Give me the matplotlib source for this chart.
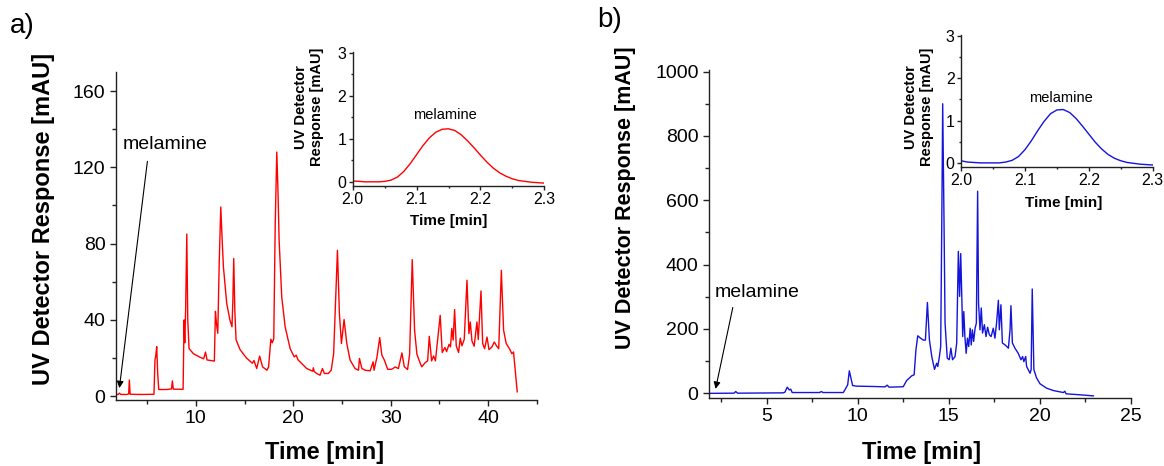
import matplotlib
matplotlib.use('Agg')
import matplotlib.pyplot as plt
from matplotlib.ticker import MultipleLocator

plt.rcParams['font.family'] = ['Liberation Sans', 'DejaVu Sans']

# chromatogram a) - time [min], response [mAU]
a_time = [1.85, 2.05, 2.15, 2.3, 2.9, 3.1, 3.17, 3.25, 4.5, 5.7, 5.8, 5.88, 5.98, 6.08, 6.19,
          7.0, 7.5, 7.59, 7.68, 8.69, 8.79, 8.86, 8.95, 9.07, 9.17, 9.3, 9.74, 10.4, 10.8, 10.99,
          11.15, 11.9, 12.01, 12.12, 12.25, 12.4, 12.56, 12.7, 12.83, 13.17, 13.5, 13.71, 13.8,
          13.89, 14.0, 14.13, 14.54, 15.2, 15.8, 15.97, 16.25, 16.55, 16.85, 17.3, 17.47, 17.7,
          17.85, 18.0, 18.15, 18.31, 18.42, 18.55, 18.82, 19.17, 19.68, 20.1, 20.3, 20.5, 20.7,
          21.38, 22.0, 22.06, 22.15, 22.4, 22.75, 23.0, 23.2, 23.6, 23.9, 24.15, 24.35, 24.54,
          24.74, 24.95, 25.22, 25.5, 25.84, 26.35, 26.7, 26.8, 27.05, 27.4, 27.9, 28.2, 28.3,
          28.6, 28.88, 29.1, 29.35, 29.7, 30.1, 30.47, 30.8, 31.16, 31.4, 31.74, 31.95, 32.1,
          32.22, 32.46, 32.7, 33.05, 33.2, 33.55, 33.8, 33.97, 34.21, 34.41, 34.6, 35.09, 35.3,
          35.57, 35.75, 36.0, 36.15, 36.28, 36.42, 36.57, 36.74, 36.98, 37.15, 37.32, 37.56,
          37.84, 38.04, 38.18, 38.35, 38.58, 38.86, 39.0, 39.28, 39.45, 39.65, 39.9, 40.1, 40.4,
          40.64, 40.9, 41.1, 41.37, 41.6, 41.87, 42.2, 42.45, 42.62, 43.0]
a_resp = [0.8, 1.0, 1.6, 0.9, 0.9, 1.2, 8.5, 1.0, 0.9, 1.0, 19, 21, 26, 12, 3.5,
          3.5, 3.8, 8.0, 3.7, 3.6, 40, 28, 45, 85, 40, 25, 22.3, 20.5, 19.6, 23.1,
          19, 18.4, 44.5, 38, 33, 70, 99.2, 82, 67.8, 48.6, 39.9, 36.4, 50,
          72.2, 45, 29.6, 24.4, 20, 17.3, 18.7, 14.5, 21, 15.4, 13.6, 15.4, 29.9,
          28, 30.2, 90, 128, 110, 81.8, 52, 36.3, 25, 20.6, 21.5, 19, 18,
          14.5, 13.1, 14.9, 13, 11.9, 11, 14.5, 11.9, 11.9, 13.6, 22.4, 50, 76.5,
          43.3, 27.6, 40.2, 27.6, 18.9, 14.5, 13.6, 19.8, 14.5, 13.6, 13.3, 18, 13.6,
          20.6, 30.7, 21.5, 19, 14.1, 14.1, 15.3, 14.5, 22.7, 15.5, 14, 22, 50,
          71.6, 34.6, 22, 17.1, 15.4, 17.6, 18.5, 31.4, 18.5, 21.1, 18.5, 42.4, 22.9,
          25.5, 23.4, 27.2, 25.9, 35.5, 29.4, 45.4, 26.4, 22.9, 30.4, 26.4, 29.8,
          60.8, 32.8, 38.9, 29, 26.2, 38.9, 29.7, 55.2, 27.6, 24.9, 31, 24.4, 25.8,
          28.4, 26.2, 24.9, 66, 34.6, 27.6, 24.9, 22.3, 23.2, 2.3]

# chromatogram b)
b_time = [1.88, 3.2, 3.3, 3.4, 5.9, 6.0, 6.13, 6.24, 6.32, 6.4, 7.9, 8.0, 8.1, 9.21, 9.35,
          9.45, 9.54, 9.63, 9.72, 9.94, 10.85, 11.5, 11.62, 11.72, 12.5, 12.69, 12.97, 13.1,
          13.2, 13.3, 13.43, 13.61, 13.72, 13.83, 13.94, 14.07, 14.22, 14.34, 14.4, 14.49,
          14.56, 14.62, 14.67, 14.74, 14.8, 14.92, 15.03, 15.12, 15.21, 15.35, 15.44, 15.53,
          15.6, 15.66, 15.72, 15.77, 15.83, 15.89, 15.96, 16.03, 16.1, 16.18, 16.24, 16.3,
          16.37, 16.45, 16.52, 16.59, 16.64, 16.72, 16.79, 16.86, 16.96, 17.05, 17.14, 17.23,
          17.33, 17.45, 17.54, 17.63, 17.73, 17.78, 17.87, 17.95, 18.1, 18.28, 18.37, 18.42,
          18.5, 18.64, 18.82, 18.97, 19.06, 19.13, 19.23, 19.28, 19.47, 19.53, 19.59, 19.68,
          19.83, 20.02, 20.38, 20.75, 21.3, 21.38, 21.45, 22.2, 22.95]
b_resp = [-0.5, 0, 5, 0, 1, 3, 18.7, 10, 12.5, 2, 2, 5, 2, 2, 15.6,
          26, 69.5, 46.7, 23.9, 21.8, 20.8, 19.7, 24.9, 18.7, 20, 39.4, 54, 57,
          135, 178.5, 172, 165, 165, 282, 166, 114, 74, 93, 83, 114,
          145, 529, 900, 550, 218, 109, 104, 140, 104, 114, 156, 441,
          301, 434, 301, 176, 254, 176, 124, 171, 145, 202, 150, 197,
          161, 202, 218, 628, 280, 197, 265, 187, 213, 176, 205, 182,
          176, 202, 171, 218, 289, 197, 275, 156, 150, 140, 197, 272,
          156, 140, 124, 104, 114, 98, 114, 83, 62, 73, 324, 73,
          47, 29, 15.5, 8.2, 2, 6, -2, -5, -8.4]

# melamine peak insets
inset_time = [2.00, 2.01, 2.02, 2.03, 2.04, 2.05, 2.06, 2.07, 2.08, 2.09, 2.10, 2.11, 2.12,
              2.13, 2.14, 2.15, 2.16, 2.17, 2.18, 2.19, 2.20, 2.21, 2.22, 2.23, 2.24, 2.25,
              2.26, 2.27, 2.28, 2.29, 2.30]
inset_a_resp = [0.02, 0.01, 0.0, 0.0, 0.0, 0.01, 0.04, 0.11, 0.24, 0.42, 0.63, 0.84, 1.02,
                1.15, 1.22, 1.23, 1.19, 1.09, 0.95, 0.79, 0.62, 0.46, 0.32, 0.21, 0.13, 0.07,
                0.03, 0.01, -0.01, -0.02, -0.03]
inset_b_resp = [0.05, 0.02, 0.01, 0.0, 0.0, 0.0, 0.0, 0.02, 0.06, 0.15, 0.31, 0.52, 0.76,
                0.98, 1.16, 1.25, 1.26, 1.19, 1.05, 0.87, 0.68, 0.49, 0.33, 0.20, 0.11, 0.05,
                0.01, -0.01, -0.03, -0.04, -0.05]

W, H = 1164, 466


def box(left, top, right, bottom):
    # pixel box -> figure fraction
    return [left / W, 1 - bottom / H, (right - left) / W, (bottom - top) / H]


def style_axis(ax, size, length):
    for side in ['top', 'right']:
        ax.spines[side].set_visible(False)
    for side in ['left', 'bottom']:
        ax.spines[side].set_linewidth(1.0)
        ax.spines[side].set_color('#222222')
    ax.tick_params(which='major', direction='out', length=length, width=1.0,
                   labelsize=size, color='#222222', pad=3)
    ax.tick_params(which='minor', direction='out', length=length * 0.6, width=1.0,
                   color='#222222')


fig = plt.figure(figsize=(W / 100, H / 100), dpi=100)

# a) main
ax_a = fig.add_axes(box(116, 72, 536.7, 400))
ax_a.plot(a_time, a_resp, color='#ff0000', lw=1.0)
ax_a.set_xlim(1.8, 45)
ax_a.set_ylim(-2, 170)
ax_a.xaxis.set_major_locator(MultipleLocator(10))
ax_a.xaxis.set_minor_locator(MultipleLocator(5))
ax_a.yaxis.set_major_locator(MultipleLocator(40))
ax_a.yaxis.set_minor_locator(MultipleLocator(20))
style_axis(ax_a, 14, 4.5)
ax_a.annotate('', xy=(2.11, 2.8), xytext=(5.06, 124.6),
              arrowprops=dict(arrowstyle='-|>', color='black', lw=0.8, mutation_scale=10))
ax_a.text(2.52, 131.8, 'melamine', fontsize=14, va='center')

# b) main
ax_b = fig.add_axes(box(709, 70, 1130.7, 398))
ax_b.plot(b_time, b_resp, color='#1414dc', lw=1.0)
ax_b.set_xlim(1.83, 25)
ax_b.set_ylim(-15, 1005)
ax_b.xaxis.set_major_locator(MultipleLocator(5))
ax_b.xaxis.set_minor_locator(MultipleLocator(2.5))
ax_b.yaxis.set_major_locator(MultipleLocator(200))
ax_b.yaxis.set_minor_locator(MultipleLocator(100))
style_axis(ax_b, 14, 4.5)
ax_b.annotate('', xy=(2.16, 5), xytext=(3.17, 275),
              arrowprops=dict(arrowstyle='-|>', color='black', lw=0.8, mutation_scale=10))
ax_b.text(2.16, 312, 'melamine', fontsize=14, va='center')

# insets
ins_a = fig.add_axes(box(352.7, 51.7, 544.3, 185.7))
ins_a.plot(inset_time, inset_a_resp, color='#ff0000', lw=1.0)
ins_a.text(2.144, 1.55, 'melamine', fontsize=10.5, ha='center', va='center')

ins_b = fig.add_axes(box(961, 35, 1152.7, 166.7))
ins_b.plot(inset_time, inset_b_resp, color='#1414dc', lw=1.0)
ins_b.text(2.156, 1.54, 'melamine', fontsize=10.5, ha='center', va='center')

for ins in [ins_a, ins_b]:
    ins.patch.set_alpha(0)
    ins.set_xlim(2.0, 2.3)
    ins.set_ylim(-0.09, 3.02)
    ins.set_xticks([2.0, 2.1, 2.2, 2.3])
    ins.xaxis.set_minor_locator(MultipleLocator(0.05))
    ins.yaxis.set_major_locator(MultipleLocator(1))
    ins.yaxis.set_minor_locator(MultipleLocator(0.5))
    style_axis(ins, 11.5, 3)
    ins.tick_params(which='major', pad=1.5)

# labels
fig.text(10 / W, 1 - 13 / H, 'a)', fontsize=20, va='top', ha='left')
fig.text(597 / W, 1 - 7 / H, 'b)', fontsize=20, va='top', ha='left')

fig.text(44 / W, 1 - 219 / H, 'UV Detector Response [mAU]', rotation=90,
         fontsize=17, fontweight='bold', ha='center', va='center')
fig.text(625 / W, 1 - 198 / H, 'UV Detector Response [mAU]', rotation=90,
         fontsize=15.5, fontweight='bold', ha='center', va='center')
fig.text(325 / W, 1 - 453 / H, 'Time [min]', fontsize=17, fontweight='bold',
         ha='center', va='center')
fig.text(922 / W, 1 - 453 / H, 'Time [min]', fontsize=17, fontweight='bold',
         ha='center', va='center')

fig.text(309 / W, 1 - 107 / H, 'UV Detector\nResponse [mAU]', rotation=90, fontsize=10.5,
         fontweight='bold', ha='center', va='center', multialignment='center')
fig.text(919 / W, 1 - 107 / H, 'UV Detector\nResponse [mAU]', rotation=90, fontsize=10.5,
         fontweight='bold', ha='center', va='center', multialignment='center')
fig.text(449 / W, 1 - 221 / H, 'Time [min]', fontsize=11, fontweight='bold',
         ha='center', va='center')
fig.text(1064 / W, 1 - 203 / H, 'Time [min]', fontsize=11, fontweight='bold',
         ha='center', va='center')

fig.savefig('out.png', dpi=100)
